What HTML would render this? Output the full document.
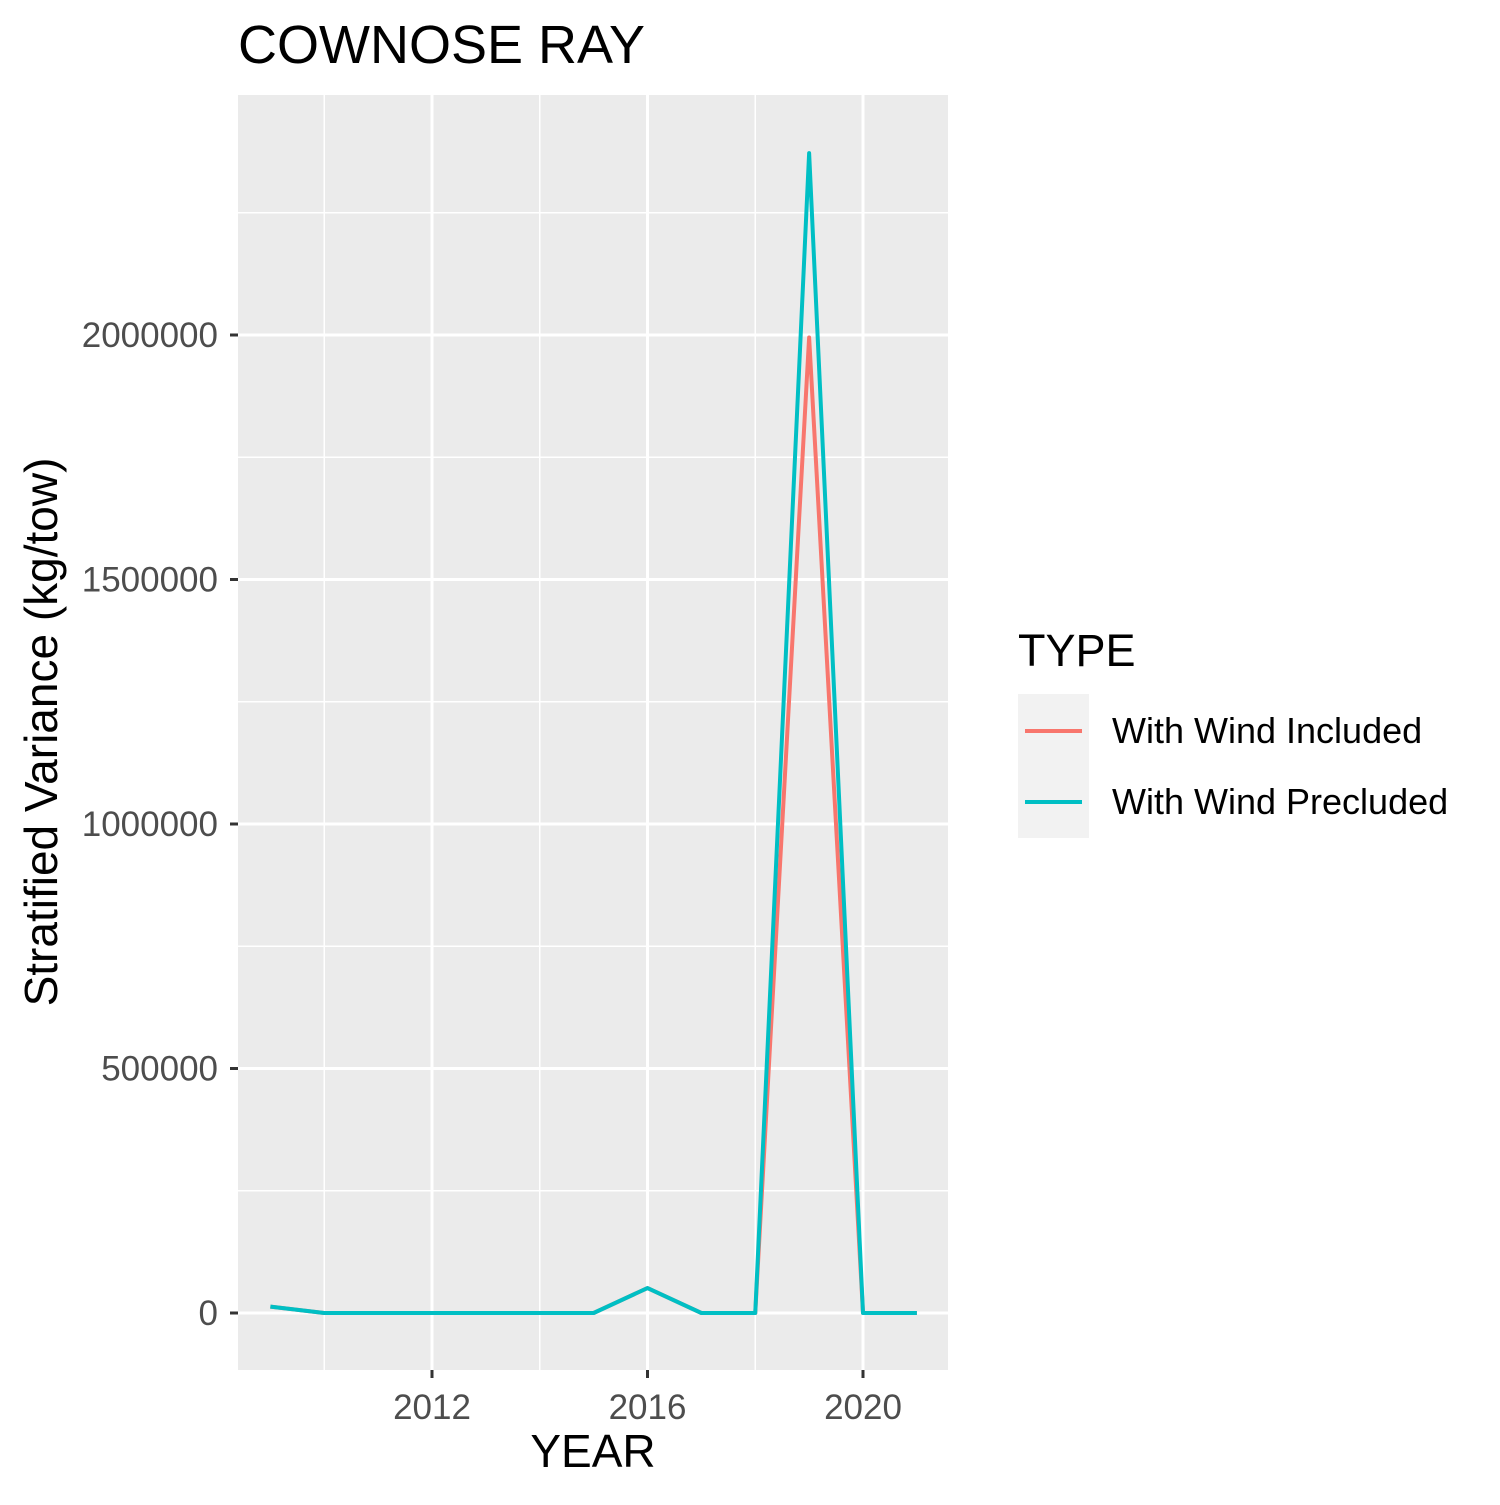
<!DOCTYPE html>
<html><head><meta charset="utf-8"><style>
body{margin:0;background:#fff;width:1500px;height:1500px;overflow:hidden;font-family:"Liberation Sans",Arial,sans-serif;}
</style></head><body>
<svg id="chart" width="1500" height="1500" xmlns="http://www.w3.org/2000/svg" font-family="Liberation Sans, Arial, sans-serif">
<text x="238" y="63" font-size="54" fill="#000">COWNOSE RAY</text>
<rect x="238" y="95" width="710" height="1275" fill="#ebebeb"/>
<g id="grid"></g>
<g id="axes"></g>
<g id="series"></g>
<text x="593" y="1467" font-size="46" text-anchor="middle" fill="#000">YEAR</text>
<text transform="translate(57,732) rotate(-90)" font-size="46" text-anchor="middle" fill="#000">Stratified Variance (kg/tow)</text>
<g>
<text x="1018" y="666" font-size="45" fill="#000">TYPE</text>
<rect x="1018" y="694" width="71" height="144" fill="#f2f2f2"/>
<line x1="1025" y1="731" x2="1082" y2="731" stroke="#F8766D" stroke-width="4"/>
<line x1="1025" y1="802" x2="1082" y2="802" stroke="#00BFC4" stroke-width="4"/>
<text x="1112" y="743" font-size="36" fill="#000">With Wind Included</text>
<text x="1112" y="814" font-size="36" fill="#000">With Wind Precluded</text>
</g>
</svg>
<script>
const years=[2009,2010,2011,2012,2013,2014,2015,2016,2017,2018,2019,2020,2021];
const included=[13000,0,0,0,0,0,0,51000,0,0,1995000,0,0];
const precluded=[13000,0,0,0,0,0,0,51000,0,0,2372000,0,0];
const yTicks=[0,500000,1000000,1500000,2000000];
const yMinor=[250000,750000,1250000,1750000,2250000];
const xTicks=[2012,2016,2020];
const xMinor=[2010,2014,2018];
const NS="http://www.w3.org/2000/svg";
const px0=238,px1=948,py0=95,py1=1370;
function X(v){return 432+(v-2012)*(863-432)/8;}
function Y(v){return 1313-v*(1313-335)/2000000;}
function mk(t,a,p){const e=document.createElementNS(NS,t);for(const k in a)e.setAttribute(k,a[k]);p.appendChild(e);return e;}
const g=document.getElementById('grid'),ax=document.getElementById('axes'),s=document.getElementById('series');
yMinor.forEach(v=>{const l=mk('line',{x1:px0,x2:px1,y1:Y(v),y2:Y(v),stroke:'#fff','stroke-width':1.5},g);

});
xMinor.forEach(v=>{const l=mk('line',{x1:X(v),x2:X(v),y1:py0,y2:py1,stroke:'#fff','stroke-width':1.5},g);

});
yTicks.forEach(v=>{const l=mk('line',{x1:px0,x2:px1,y1:Y(v),y2:Y(v),stroke:'#fff','stroke-width':3},g);


const t=mk('line',{x1:px0-8,x2:px0,y1:Y(v),y2:Y(v),stroke:'#333','stroke-width':3},ax);


const tx=mk('text',{x:px0-20,y:Y(v)+12,'font-size':35,'text-anchor':'end',fill:'#4d4d4d'},ax);tx.textContent=v;

});
xTicks.forEach(v=>{const l=mk('line',{x1:X(v),x2:X(v),y1:py0,y2:py1,stroke:'#fff','stroke-width':3},g);


const t=mk('line',{x1:X(v),x2:X(v),y1:py1,y2:py1+8,stroke:'#333','stroke-width':3},ax);


const tx=mk('text',{x:X(v),y:py1+49,'font-size':35,'text-anchor':'middle',fill:'#4d4d4d'},ax);tx.textContent=v;

});
function line(vals,color,name){const p=mk('polyline',{points:years.map((y,i)=>X(y)+','+Y(vals[i])).join(' '),fill:'none',stroke:color,'stroke-width':4,'stroke-linejoin':'round'},s);

}
line(included,'#F8766D','line-with-wind-included');
line(precluded,'#00BFC4','line-with-wind-precluded');
</script>
</body></html>
